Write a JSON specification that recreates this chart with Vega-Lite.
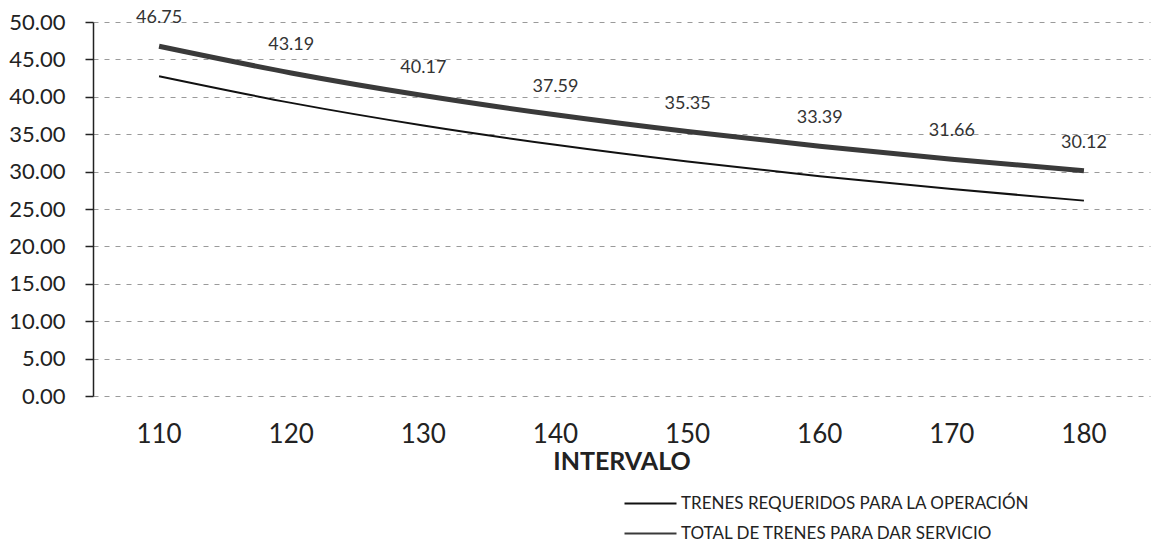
{
  "$schema": "https://vega.github.io/schema/vega-lite/v6.json",
  "autosize": {"type": "none"},
  "padding": {"left": 93, "top": 22, "right": 8, "bottom": 153},
  "width": 1057,
  "height": 374,
  "background": "white",
  "config": {
    "font": "Lato",
    "view": {"stroke": null}
  },
  "data": {
    "values": [
      {"intervalo": 110, "serie": "TRENES REQUERIDOS PARA LA OPERACIÓN", "trenes": 42.75},
      {"intervalo": 120, "serie": "TRENES REQUERIDOS PARA LA OPERACIÓN", "trenes": 39.19},
      {"intervalo": 130, "serie": "TRENES REQUERIDOS PARA LA OPERACIÓN", "trenes": 36.17},
      {"intervalo": 140, "serie": "TRENES REQUERIDOS PARA LA OPERACIÓN", "trenes": 33.59},
      {"intervalo": 150, "serie": "TRENES REQUERIDOS PARA LA OPERACIÓN", "trenes": 31.35},
      {"intervalo": 160, "serie": "TRENES REQUERIDOS PARA LA OPERACIÓN", "trenes": 29.39},
      {"intervalo": 170, "serie": "TRENES REQUERIDOS PARA LA OPERACIÓN", "trenes": 27.66},
      {"intervalo": 180, "serie": "TRENES REQUERIDOS PARA LA OPERACIÓN", "trenes": 26.12},
      {"intervalo": 110, "serie": "TOTAL DE TRENES PARA DAR SERVICIO", "trenes": 46.75},
      {"intervalo": 120, "serie": "TOTAL DE TRENES PARA DAR SERVICIO", "trenes": 43.19},
      {"intervalo": 130, "serie": "TOTAL DE TRENES PARA DAR SERVICIO", "trenes": 40.17},
      {"intervalo": 140, "serie": "TOTAL DE TRENES PARA DAR SERVICIO", "trenes": 37.59},
      {"intervalo": 150, "serie": "TOTAL DE TRENES PARA DAR SERVICIO", "trenes": 35.35},
      {"intervalo": 160, "serie": "TOTAL DE TRENES PARA DAR SERVICIO", "trenes": 33.39},
      {"intervalo": 170, "serie": "TOTAL DE TRENES PARA DAR SERVICIO", "trenes": 31.66},
      {"intervalo": 180, "serie": "TOTAL DE TRENES PARA DAR SERVICIO", "trenes": 30.12}
    ]
  },
  "encoding": {
    "x": {
      "field": "intervalo",
      "type": "ordinal",
      "scale": {"type": "band", "paddingInner": 0, "paddingOuter": 0},
      "axis": {
        "title": "INTERVALO",
        "titleFont": "Lato",
        "titleFontSize": 25,
        "titleFontWeight": "bold",
        "titleColor": "#222",
        "titlePadding": 2,
        "labelAngle": 0,
        "labelFont": "Lato",
        "labelFontSize": 26,
        "labelColor": "#222",
        "labelPadding": 25,
        "domain": false,
        "ticks": false,
        "grid": false
      }
    },
    "y": {
      "field": "trenes",
      "type": "quantitative",
      "scale": {"domain": [0, 50], "nice": false},
      "axis": {
        "title": null,
        "values": [0, 5, 10, 15, 20, 25, 30, 35, 40, 45, 50],
        "format": ".2f",
        "labelFont": "Lato",
        "labelFontSize": 22,
        "labelColor": "#222",
        "labelPadding": 20,
        "domain": true,
        "domainColor": "#222",
        "domainWidth": 1.5,
        "ticks": true,
        "tickColor": "#222",
        "tickSize": 8,
        "tickWidth": 1.5,
        "grid": true,
        "gridColor": "#9a9a9a",
        "gridDash": [5, 6],
        "gridWidth": 1
      }
    }
  },
  "layer": [
    {
      "mark": {"type": "line", "interpolate": "monotone"},
      "encoding": {
        "color": {
          "field": "serie",
          "type": "nominal",
          "scale": {
            "domain": ["TRENES REQUERIDOS PARA LA OPERACIÓN", "TOTAL DE TRENES PARA DAR SERVICIO"],
            "range": ["#111111", "#3a3a3a"]
          },
          "legend": {
            "title": null,
            "orient": "none",
            "legendX": 549,
            "legendY": 473,
            "symbolType": "M-5.2,0H5.2",
            "symbolSize": 100,
            "symbolStrokeWidth": 2,
            "symbolStrokeColor": "#111",
            "symbolFillColor": "transparent",
            "labelFont": "Lato",
            "labelFontSize": 17,
            "labelColor": "#222",
            "labelOffset": 22,
            "labelLimit": 600,
            "rowPadding": 12
          }
        },
        "strokeWidth": {
          "condition": {"test": "datum.serie === 'TOTAL DE TRENES PARA DAR SERVICIO'", "value": 5},
          "value": 2
        }
      }
    },
    {
      "transform": [{"filter": "datum.serie === 'TOTAL DE TRENES PARA DAR SERVICIO'"}],
      "mark": {"type": "text", "dy": -28, "font": "Lato", "fontSize": 18, "color": "#333"},
      "encoding": {
        "text": {"field": "trenes", "type": "quantitative", "format": ".2f"}
      }
    }
  ]
}
